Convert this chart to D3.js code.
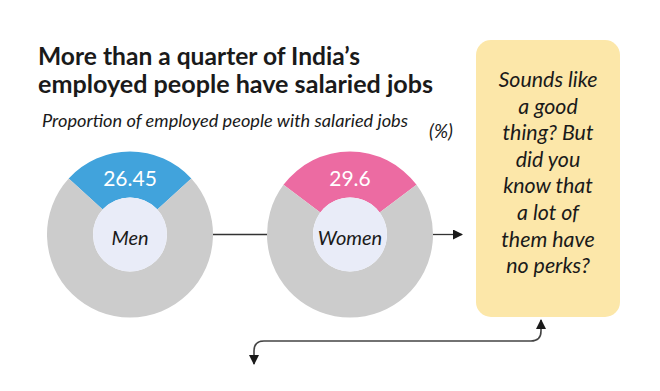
<!DOCTYPE html>
<html>
<head>
<meta charset="utf-8">
<script src="https://cdn.jsdelivr.net/npm/d3@7"></script>
<style>
  body { margin: 0; background: #fff; }
  svg { display: block; font-family: Lato, "Open Sans", sans-serif; }
</style>
</head>
<body>
<div id="container"></div>
<script>
/* data */
const categories = ["Men", "Women"];
const values = [26.45, 29.6];
const valueLabels = ["26.45", "29.6"];
const titleLines = ["More than a quarter of India\u2019s", "employed people have salaried jobs"];
const subtitle = "Proportion of employed people with salaried jobs";
const noteLines = ["Sounds like", "a good", "thing? But", "did you", "know that", "a lot of", "them have", "no perks?"];

const width = 660, height = 391;
const colors = { Men: "#41a3dc", Women: "#ec6ba2" };
const rest = "#cccccc";
const innerFill = "#e9ecf8";
const ink = "#1a1a1a";

const svg = d3.select("#container").append("svg")
  .attr("width", width).attr("height", height);

const defs = svg.append("defs");
defs.append("marker").attr("id", "arr")
  .attr("viewBox", "0 0 10 10").attr("refX", 9).attr("refY", 5)
  .attr("markerWidth", 10).attr("markerHeight", 10).attr("markerUnits", "userSpaceOnUse")
  .attr("orient", "auto")
  .append("path").attr("d", "M0,0L10,5L0,10Z").attr("fill", ink);

// title
svg.append("g").selectAll("text").data(titleLines).join("text")
  .attr("x", 38).attr("y", (d, i) => 65 + i * 28)
  .attr("font-size", 25).attr("font-weight", 700).attr("fill", ink)
  .attr("textLength", (d, i) => i ? 395 : 322).attr("lengthAdjust", "spacingAndGlyphs")
  .text(d => d);

svg.append("text").attr("x", 42).attr("y", 127)
  .attr("font-size", 18).attr("font-style", "italic").attr("fill", ink)
  .attr("textLength", 366).attr("lengthAdjust", "spacingAndGlyphs")
  .text(subtitle);
svg.append("text").attr("x", 429).attr("y", 138)
  .attr("font-size", 19).attr("font-style", "italic").attr("fill", ink)
  .text("(%)");

// donuts
const x = d3.scalePoint().domain(categories).range([130, 350]);
const cy = 234.5, rOuter = 83, rInner = 37;
const arc = d3.arc().innerRadius(rInner).outerRadius(rOuter);

// connectors
const conn = svg.append("g").attr("stroke", "#333").attr("stroke-width", 1.3).attr("fill", "none");
conn.append("line").attr("x1", x("Men") + rOuter).attr("x2", x("Women") - rOuter)
  .attr("y1", cy).attr("y2", cy);
conn.append("line").attr("x1", x("Women") + rOuter).attr("x2", 462)
  .attr("y1", cy).attr("y2", cy).attr("marker-end", "url(#arr)");

categories.forEach((c, i) => {
  const v = values[i];
  const half = v / 100 * Math.PI;
  const pie = d3.pie().sort(null).value(d => d)
    .startAngle(-half).endAngle(2 * Math.PI - half);
  const g = svg.append("g").attr("transform", `translate(${x(c)},${cy})`);
  g.selectAll("path").data(pie([v, 100 - v])).join("path")
    .attr("d", arc).attr("fill", (d, j) => j === 0 ? colors[c] : rest);
  g.append("circle").attr("r", rInner).attr("fill", innerFill);
  g.append("text").attr("y", -49).attr("text-anchor", "middle")
    .attr("font-size", 21).attr("fill", "#fff")
    .text(valueLabels[i]);
  g.append("text").attr("y", 10).attr("text-anchor", "middle")
    .attr("font-size", 20).attr("font-style", "italic").attr("fill", ink)
    .text(c);
});

// note box
svg.append("rect").attr("x", 476).attr("y", 40).attr("width", 144).attr("height", 277)
  .attr("rx", 15).attr("fill", "#fce7a9");
const note = svg.append("g").selectAll("text").data(noteLines).join("text")
  .attr("x", 548).attr("y", (d, i) => 87 + i * 26.6)
  .attr("text-anchor", "middle").attr("font-size", 20).attr("font-style", "italic").attr("fill", ink)
  .text(d => d);
// scale the font so the first line is about as wide as in the print
const w0 = note.node().getComputedTextLength();
if (w0 > 0) note.attr("font-size", Math.min(26, 20 * 99 / w0));

// bottom connector
svg.append("path")
  .attr("d", "M541,331 Q541,341 531,341 L264,341 Q254,341 254,351 L254,364")
  .attr("fill", "none").attr("stroke", "#444").attr("stroke-width", 1.6)
  .attr("marker-end", "url(#arr)");
svg.append("path")
  .attr("d", "M541,331 L541,320")
  .attr("fill", "none").attr("stroke", "#444").attr("stroke-width", 1.6)
  .attr("marker-end", "url(#arr)");
</script>
</body>
</html>
